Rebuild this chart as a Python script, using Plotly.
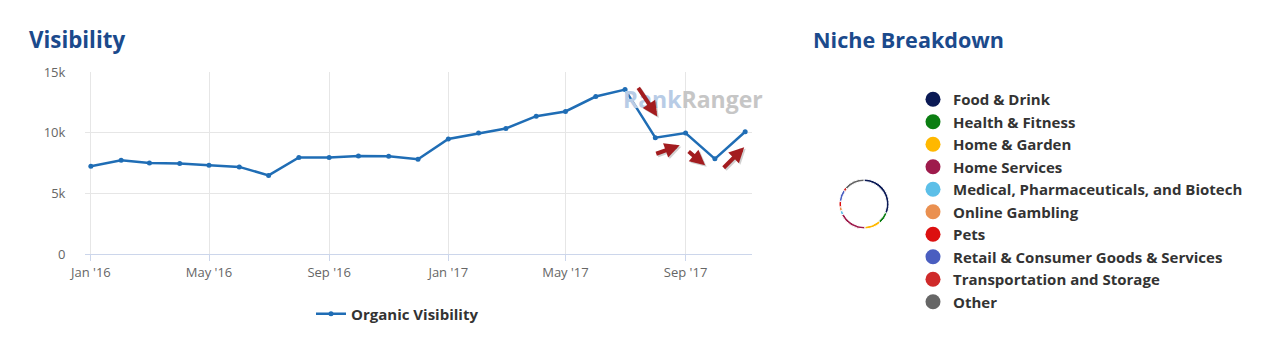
import plotly.graph_objects as go

W, H = 1266, 343

# ---------------- data ----------------
months = ["2016-01-01", "2016-02-01", "2016-03-01", "2016-04-01", "2016-05-01", "2016-06-01",
          "2016-07-01", "2016-08-01", "2016-09-01", "2016-10-01", "2016-11-01", "2016-12-01",
          "2017-01-01", "2017-02-01", "2017-03-01", "2017-04-01", "2017-05-01", "2017-06-01",
          "2017-07-01", "2017-08-01", "2017-09-01", "2017-10-01", "2017-11-01"]
organic_visibility = [7240, 7730, 7510, 7460, 7320, 7180, 6480, 7950, 7950, 8080, 8060, 7810,
                      9480, 9970, 10350, 11360, 11750, 12980, 13550, 9590, 9970, 7840, 10080]

y_tickvals = [0, 5000, 10000, 15000]
y_ticktext = ["0", "5k", "10k", "15k"]

niche_names = ["Food & Drink", "Health & Fitness", "Home & Garden", "Home Services",
               "Medical, Pharmaceuticals, and Biotech", "Online Gambling", "Pets",
               "Retail & Consumer Goods & Services", "Transportation and Storage", "Other"]
niche_shares = [29, 7, 10, 17, 2.5, 2.5, 3.5, 7, 2, 12.5]
niche_colors = ["#0b1a55", "#0b7e12", "#ffb800", "#9e1b4c", "#5cbfe8", "#ea9050",
                "#dc1010", "#4a5ec0", "#cf2a2a", "#666666"]

# ---------------- helpers ----------------
def px_x(p):
    return p / W

def px_y(p):
    return 1 - p / H

TITLE_BLUE = "#1b4a8c"
FONT = "Open Sans"

fig = go.Figure()

fig.add_trace(go.Scatter(
    x=months, y=organic_visibility, mode="lines+markers", name="Organic Visibility",
    line=dict(color="#1f6db5", width=2.5), marker=dict(size=5, color="#1f6db5"),
    legend="legend", hoverinfo="x+y",
))

fig.add_trace(go.Pie(
    labels=niche_names, values=niche_shares, sort=False, direction="clockwise", rotation=0,
    hole=0.9, marker=dict(colors=niche_colors, line=dict(color="white", width=1)),
    textinfo="none", showlegend=False,
    domain=dict(x=[px_x(839), px_x(889)], y=[px_y(229), px_y(179)]),
))

for name, col in zip(niche_names, niche_colors):
    fig.add_trace(go.Scatter(
        x=[None], y=[None], mode="markers", name=name, legend="legend2", legendgroup=name,
        marker=dict(size=15, color=col, symbol="circle"), showlegend=True,
    ))

annotations = [
    dict(text="<b>Visibility</b>", x=px_x(27), y=px_y(40), xref="paper", yref="paper",
         xanchor="left", yanchor="middle", showarrow=False,
         font=dict(family=FONT, size=22.3, color=TITLE_BLUE)),
    dict(text="<b>Niche Breakdown</b>", x=px_x(811), y=px_y(40), xref="paper", yref="paper",
         xanchor="left", yanchor="middle", showarrow=False,
         font=dict(family=FONT, size=21.6, color=TITLE_BLUE)),
    dict(text="<b><span style='color:#b8cce6'>Rank</span><span style='color:#c6c6c6'>Ranger</span></b>",
         x=px_x(693), y=px_y(99), xref="paper", yref="paper", xanchor="center", yanchor="middle",
         showarrow=False, font=dict(family=FONT, size=23)),
]

# red arrows (head position in data space, tail offset in px), drawn with a soft shadow
arrows = [("2017-08-03", 11340, -20, -30),
          ("2017-08-26", 8960, -25, 9),
          ("2017-09-21", 7320, -18, -15),
          ("2017-10-31", 8800, -22, 22)]
for ax_x, ax_y, dx, dy in arrows:
    annotations.append(dict(x=ax_x, y=ax_y, xref="x", yref="y", ax=dx, ay=dy, text="",
                            showarrow=True, arrowhead=2, arrowsize=0.75, arrowwidth=4,
                            arrowcolor="rgba(0,0,0,0.18)", xshift=1.5, yshift=-1.5))
    annotations.append(dict(x=ax_x, y=ax_y, xref="x", yref="y", ax=dx, ay=dy, text="",
                            showarrow=True, arrowhead=2, arrowsize=0.75, arrowwidth=4,
                            arrowcolor="#a31c1f"))

fig.update_layout(
    template="none",
    width=W, height=H, margin=dict(l=0, r=0, t=0, b=0, pad=0, autoexpand=False),
    paper_bgcolor="white", plot_bgcolor="white",
    font=dict(family=FONT, size=13, color="#666666"),
    xaxis=dict(domain=[px_x(85), px_x(752)], type="date", automargin=False,
               range=["2015-12-26", "2017-11-08"], tick0="2016-01-01", dtick="M4",
               tickformat="%b '%y", showgrid=True, gridcolor="#e6e6e6", gridwidth=1,
               showline=True, linecolor="#ccd6eb", linewidth=1,
               ticks="outside", ticklen=6, tickcolor="#ccd6eb",
               tickfont=dict(size=13, color="#666666"), zeroline=False, fixedrange=True),
    yaxis=dict(domain=[px_y(254), px_y(72)], range=[0, 15000], automargin=False,
               tickvals=y_tickvals, ticktext=y_ticktext,
               showgrid=True, gridcolor="#e6e6e6", gridwidth=1, zeroline=False,
               showline=False, ticks="outside", ticklen=16, tickcolor="rgba(0,0,0,0)",
               tickfont=dict(size=13, color="#666666"), fixedrange=True),
    legend=dict(orientation="h", x=px_x(311), y=px_y(314), xanchor="left", yanchor="middle",
                font=dict(family=FONT, size=15, color="#333333", weight="bold"),
                bgcolor="rgba(0,0,0,0)"),
    legend2=dict(orientation="v", x=px_x(913), y=px_y(83), xanchor="left", yanchor="top",
                 font=dict(family=FONT, size=15, color="#333333", weight="bold"),
                 tracegroupgap=0, itemsizing="trace", bgcolor="rgba(0,0,0,0)"),
    annotations=annotations,
    showlegend=True,
)

fig.write_html("out.html")
